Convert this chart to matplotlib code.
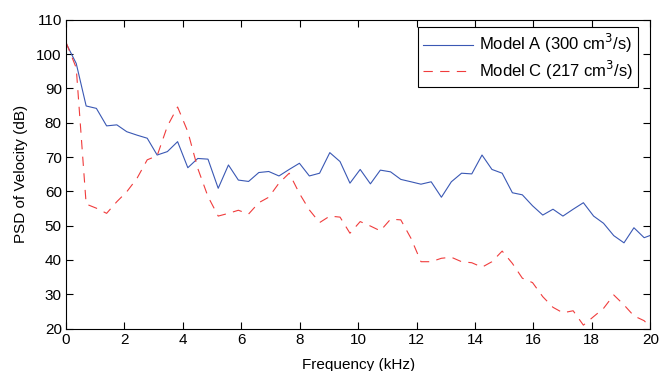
import numpy as np
import matplotlib
matplotlib.use("Agg")
import matplotlib.pyplot as plt

plt.rcParams['font.family'] = ['Liberation Sans', 'DejaVu Sans']
plt.rcParams['lines.scale_dashes'] = False

# frequency bins (kHz), the last one lies just past the 20 kHz limit
freq = [0.00, 0.35, 0.69, 1.04, 1.39, 1.74, 2.08, 2.43, 2.78, 3.12,
        3.47, 3.82, 4.17, 4.51, 4.86, 5.21, 5.56, 5.90, 6.25, 6.60,
        6.94, 7.29, 7.64, 7.99, 8.33, 8.68, 9.03, 9.38, 9.72, 10.07,
        10.42, 10.76, 11.11, 11.46, 11.81, 12.15, 12.50, 12.85, 13.19, 13.54,
        13.89, 14.24, 14.58, 14.93, 15.28, 15.62, 15.97, 16.32, 16.67, 17.01,
        17.36, 17.71, 18.06, 18.40, 18.75, 19.10, 19.44, 19.79, 20.14]

model_a = [103.2, 97.3, 84.9, 84.2, 79.1, 79.4, 77.4, 76.4, 75.5, 70.6,
           71.6, 74.5, 66.9, 69.6, 69.4, 60.9, 67.7, 63.3, 62.9, 65.5,
           65.8, 64.5, 66.4, 68.2, 64.5, 65.3, 71.3, 68.7, 62.4, 66.4,
           62.2, 66.2, 65.7, 63.5, 62.8, 62.1, 62.8, 58.3, 62.8, 65.3,
           65.1, 70.6, 66.4, 65.3, 59.6, 59.0, 55.8, 53.1, 54.8, 52.8,
           54.8, 56.7, 52.8, 50.7, 47.1, 45.0, 49.4, 46.5, 47.6]

model_c = [103.5, 96.0, 56.3, 55.1, 53.6, 57.0, 59.9, 63.8, 69.2, 70.4,
           79.0, 84.6, 77.4, 66.7, 58.5, 52.8, 53.6, 54.5, 53.4, 56.7,
           58.3, 62.4, 65.3, 59.4, 54.6, 50.9, 52.8, 52.5, 47.8, 51.2,
           49.9, 48.5, 51.9, 51.7, 46.3, 39.5, 39.5, 40.5, 40.8, 39.5,
           39.2, 37.9, 39.5, 42.6, 39.0, 34.7, 33.4, 29.3, 26.2, 24.6,
           25.2, 21.0, 23.5, 25.9, 29.8, 26.9, 23.7, 22.3, 19.2]

fig = plt.figure(figsize=(6.62, 3.71), dpi=100)
ax = fig.add_axes([0.0997, 0.1143, 0.8826, 0.8321])

ax.plot(freq, model_a, color='#3a58b4', lw=0.8,
        label='Model A (300 cm$^3$/s)')
ax.plot(freq, model_c, color='#f03c3c', lw=0.8, dashes=(6.7, 5.3),
        label='Model C (217 cm$^3$/s)')

ax.set_xlim(0, 20)
ax.set_ylim(20, 110)
ax.set_xticks(range(0, 21, 2))
ax.set_yticks(range(20, 111, 10))
ax.tick_params(direction='in', top=True, right=True, length=5,
               width=0.8, labelsize=11, pad=3)
for s in ax.spines.values():
    s.set_linewidth(0.8)

ax.set_xlabel('Frequency (kHz)', fontsize=11, labelpad=8)
ax.set_ylabel('PSD of Velocity (dB)', fontsize=11, labelpad=6)

leg = ax.legend(loc='upper right', fontsize=12, frameon=True,
                fancybox=False, edgecolor='black', framealpha=1,
                handlelength=3.0, handletextpad=0.36, borderpad=0.3,
                labelspacing=0.2, borderaxespad=0,
                bbox_to_anchor=(0.9795, 0.976))
leg.get_frame().set_linewidth(0.8)

fig.savefig('out.png', dpi=100)
